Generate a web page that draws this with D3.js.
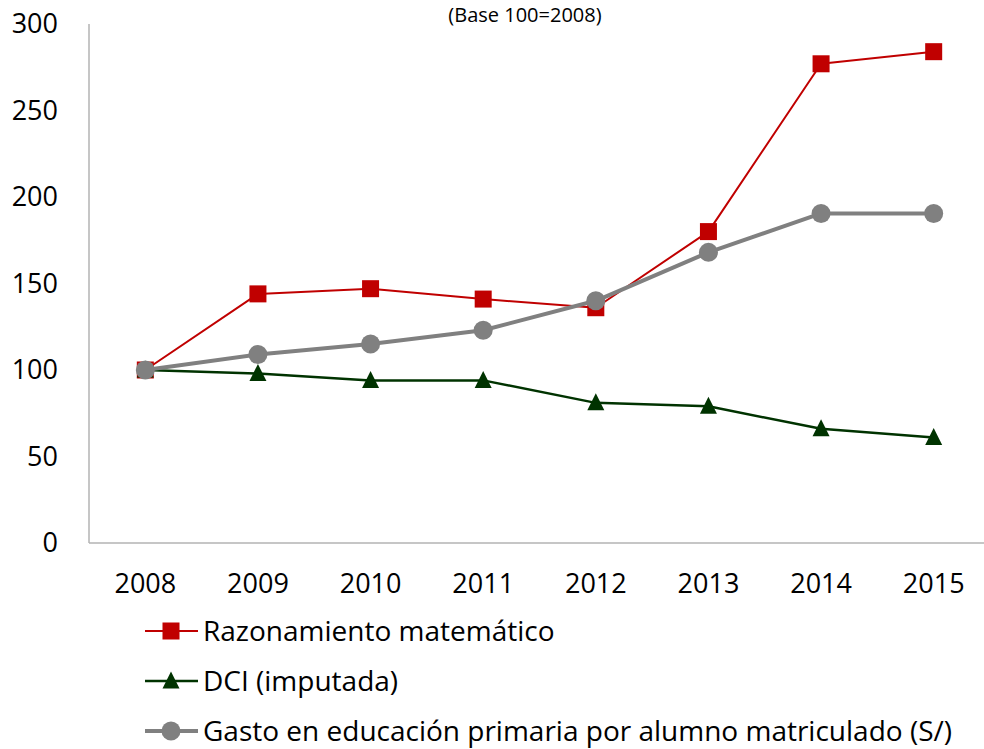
<!DOCTYPE html>
<html>
<head>
<meta charset="utf-8">
<script src="https://cdn.jsdelivr.net/npm/d3@7"></script>
<style>
  body { margin: 0; background: #fff; }
  text { font-family: "Open Sans", sans-serif; fill: #000; }
</style>
</head>
<body>
<div id="chart"></div>
<script>
// Data
const years = ["2008", "2009", "2010", "2011", "2012", "2013", "2014", "2015"];
const razonamiento = [100, 144, 147, 141, 136, 180, 277, 284];
const dci = [100, 98, 94, 94, 81, 79, 66, 61];
const gasto = [100, 109, 115, 123, 140, 168, 190.5, 190.5];
const yTicks = [0, 50, 100, 150, 200, 250, 300];
const seriesNames = [
    "Razonamiento matemático",
    "DCI (imputada)",
    "Gasto en educación primaria por alumno matriculado (S/)"
];

const series = [
    { name: seriesNames[0], values: razonamiento, color: "#c00000", width: 2, marker: "square" },
    { name: seriesNames[1], values: dci, color: "#003300", width: 2.5, marker: "triangle" },
    { name: seriesNames[2], values: gasto, color: "#808080", width: 4, marker: "circle" }
];

const W = 984, H = 749;

const svg = d3.select("#chart")
    .append("svg")
        .attr("width", W)
        .attr("height", H);

const xScale = d3.scaleBand()
    .domain(years)
    .range([89, 990]);

const yScale = d3.scaleLinear()
    .domain([0, 300])
    .range([543, 24]);

// Title (sits at the very top like the original)
svg.append("text")
    .attr("x", 525)
    .attr("y", 22)
    .attr("text-anchor", "middle")
    .style("font-size", "20px")
    .text("(Base 100=2008)");

// Axes
svg.append("line")
    .attr("x1", 89).attr("x2", 89)
    .attr("y1", yScale(300)).attr("y2", yScale(0))
    .attr("stroke", "#b3b3b3")
    .attr("stroke-width", 1.5);

svg.append("line")
    .attr("x1", 89).attr("x2", 990)
    .attr("y1", yScale(0)).attr("y2", yScale(0))
    .attr("stroke", "#b3b3b3")
    .attr("stroke-width", 1.5);

const yAxis = svg.append("g")
    .attr("transform", "translate(89,0)")
    .call(d3.axisLeft(yScale).tickValues(yTicks).tickSize(0).tickPadding(31));
yAxis.select(".domain").remove();
yAxis.selectAll("text").style("font-size", "27px").style("font-family", "'Open Sans', sans-serif");

const xAxis = svg.append("g")
    .attr("transform", `translate(0,${yScale(0)})`)
    .call(d3.axisBottom(xScale).tickSize(0).tickPadding(31));
xAxis.select(".domain").remove();
xAxis.selectAll("text").style("font-size", "27px").style("font-family", "'Open Sans', sans-serif");

// Marker drawing helper
function drawMarker(g, type, color) {
    if (type === "square") {
        g.append("rect")
            .attr("x", -8.5).attr("y", -8.5)
            .attr("width", 17).attr("height", 17)
            .attr("fill", color);
    } else if (type === "triangle") {
        g.append("path")
            .attr("d", "M0,-9.5L8.5,7.5L-8.5,7.5Z")
            .attr("fill", color);
    } else {
        g.append("circle")
            .attr("r", 9.5)
            .attr("fill", color);
    }
}

const cx = d => xScale(d) + xScale.bandwidth() / 2;

series.forEach(s => {
    svg.append("path")
        .datum(s.values)
        .attr("fill", "none")
        .attr("stroke", s.color)
        .attr("stroke-width", s.width)
        .attr("stroke-linejoin", "round")
        .attr("d", d3.line()
            .x((d, i) => cx(years[i]))
            .y(d => yScale(d)));

    s.values.forEach((v, i) => {
        const g = svg.append("g")
            .attr("transform", `translate(${cx(years[i])},${yScale(v)})`);
        drawMarker(g, s.marker, s.color);
    });
});

// Legend
const legend = svg.append("g");
series.forEach((s, i) => {
    const y = 631 + i * 50;
    const row = legend.append("g").attr("transform", `translate(0,${y})`);
    row.append("line")
        .attr("x1", 145).attr("x2", 198)
        .attr("y1", 0).attr("y2", 0)
        .attr("stroke", s.color)
        .attr("stroke-width", s.width);
    const m = row.append("g").attr("transform", "translate(171,0)");
    drawMarker(m, s.marker, s.color);
    row.append("text")
        .attr("x", 203)
        .attr("y", 0)
        .attr("dy", "0.35em")
        .style("font-size", "28px")
        .text(s.name);
});
</script>
</body>
</html>
